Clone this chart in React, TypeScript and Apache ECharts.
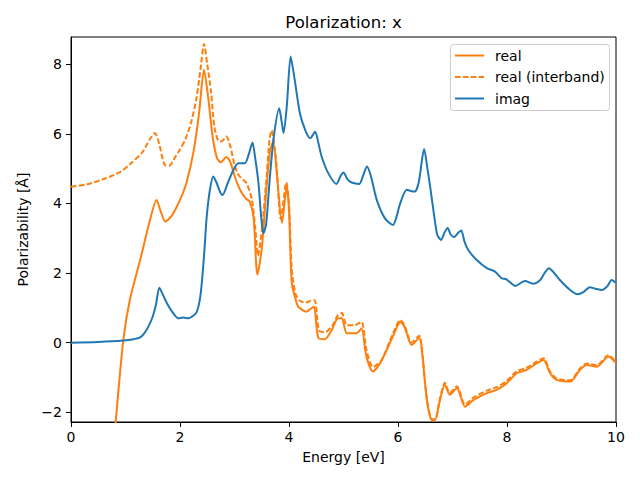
import React, { useEffect, useRef } from "react";
import * as echarts from "echarts";

const realX = [0.70, 0.82, 0.96, 1.08, 1.27, 1.45, 1.57, 1.65, 1.73, 1.85, 2.0, 2.12, 2.25, 2.35, 2.44, 2.52, 2.6, 2.68, 2.75, 2.85, 2.92, 3.01, 3.1, 3.2, 3.28, 3.35, 3.42, 3.5, 3.58, 3.65, 3.71, 3.78, 3.87, 3.96, 4.0, 4.05, 4.12, 4.17, 4.32, 4.45, 4.54, 4.66, 4.78, 4.9, 4.97, 5.06, 5.24, 5.33, 5.42, 5.54, 5.67, 5.85, 6.0, 6.04, 6.12, 6.25, 6.39, 6.43, 6.53, 6.62, 6.68, 6.77, 6.86, 6.95, 7.08, 7.23, 7.38, 7.63, 7.81, 7.99, 8.18, 8.36, 8.55, 8.67, 8.79, 8.91, 9.16, 9.34, 9.46, 9.65, 9.86, 10.0];
const realY = [-4.5, -2.27, 0.08, 1.23, 2.38, 3.53, 4.1, 3.75, 3.48, 3.65, 4.1, 4.6, 5.5, 6.6, 7.84, 7.0, 5.9, 5.3, 5.18, 5.33, 5.2, 4.75, 4.4, 4.15, 4.05, 3.6, 1.95, 2.7, 4.3, 5.5, 5.77, 4.8, 3.44, 4.48, 3.8, 1.71, 1.25, 1.03, 0.89, 1.03, 0.13, 0.1, 0.35, 0.70, 0.70, 0.27, 0.27, 0.41, -0.40, -0.83, -0.59, -0.02, 0.51, 0.60, 0.45, -0.07, 0.13, -0.11, -1.65, -2.22, -2.22, -1.65, -1.2, -1.5, -1.31, -1.84, -1.65, -1.45, -1.36, -1.17, -0.88, -0.78, -0.59, -0.5, -0.88, -1.07, -1.12, -0.78, -0.64, -0.69, -0.40, -0.59];

const interX = [0, 0.3, 0.6, 0.9, 1.1, 1.3, 1.45, 1.54, 1.62, 1.72, 1.8, 1.9, 2.0, 2.1, 2.2, 2.3, 2.38, 2.44, 2.5, 2.57, 2.63, 2.7, 2.76, 2.85, 2.93, 3.0, 3.08, 3.22, 3.32, 3.38, 3.43, 3.5, 3.58, 3.64, 3.68, 3.76, 3.85, 3.95, 4.0, 4.05, 4.12, 4.2, 4.3, 4.4, 4.47, 4.55, 4.66, 4.8, 4.9, 4.97, 5.06, 5.2, 5.33, 5.42, 5.54, 5.7, 5.85, 6.0, 6.04, 6.12, 6.25, 6.39, 6.43, 6.53, 6.62, 6.68, 6.77, 6.86, 6.95, 7.08, 7.23, 7.38, 7.63, 7.81, 7.99, 8.18, 8.36, 8.55, 8.67, 8.79, 8.91, 9.16, 9.34, 9.46, 9.65, 9.86, 10.0];
const interY = [4.48, 4.55, 4.7, 4.9, 5.15, 5.45, 5.85, 6.02, 5.7, 5.1, 5.08, 5.3, 5.55, 5.85, 6.3, 7.0, 7.9, 8.58, 8.0, 7.2, 6.2, 5.8, 5.78, 5.92, 5.6, 5.1, 4.8, 4.58, 4.1, 3.3, 2.5, 3.2, 4.6, 5.8, 6.1, 5.3, 3.55, 4.6, 4.0, 2.1, 1.4, 1.2, 1.15, 1.2, 1.22, 0.35, 0.3, 0.5, 0.8, 0.85, 0.5, 0.5, 0.6, -0.2, -0.7, -0.5, 0.05, 0.58, 0.65, 0.5, 0.0, 0.2, -0.05, -1.6, -2.2, -2.2, -1.6, -1.15, -1.45, -1.25, -1.78, -1.58, -1.38, -1.28, -1.1, -0.82, -0.72, -0.54, -0.45, -0.83, -1.03, -1.08, -0.74, -0.6, -0.65, -0.36, -0.56];

const imagX = [0, 0.5, 0.96, 1.15, 1.27, 1.35, 1.42, 1.5, 1.56, 1.62, 1.68, 1.76, 1.85, 1.97, 2.06, 2.15, 2.25, 2.31, 2.36, 2.4, 2.45, 2.49, 2.55, 2.61, 2.67, 2.73, 2.78, 2.88, 2.98, 3.07, 3.19, 3.26, 3.33, 3.38, 3.44, 3.49, 3.53, 3.58, 3.65, 3.72, 3.82, 3.86, 3.9, 3.96, 4.03, 4.1, 4.2, 4.3, 4.39, 4.48, 4.53, 4.6, 4.72, 4.87, 4.95, 5.0, 5.07, 5.15, 5.29, 5.36, 5.43, 5.5, 5.61, 5.76, 5.91, 5.97, 6.04, 6.16, 6.25, 6.31, 6.38, 6.48, 6.54, 6.59, 6.65, 6.72, 6.79, 6.85, 6.91, 6.97, 7.03, 7.1, 7.16, 7.22, 7.29, 7.44, 7.63, 7.78, 7.9, 7.99, 8.15, 8.33, 8.48, 8.61, 8.69, 8.77, 8.85, 8.97, 9.16, 9.29, 9.4, 9.52, 9.62, 9.74, 9.84, 9.92, 10.0];
const imagY = [0, 0.02, 0.06, 0.1, 0.15, 0.28, 0.46, 0.75, 1.1, 1.58, 1.4, 1.13, 0.9, 0.70, 0.72, 0.70, 0.78, 0.89, 1.2, 1.71, 2.7, 3.62, 4.4, 4.77, 4.6, 4.35, 4.24, 4.6, 4.96, 5.15, 5.15, 5.4, 5.75, 5.3, 4.58, 3.6, 3.14, 3.4, 4.77, 5.9, 6.73, 6.4, 6.02, 6.8, 8.22, 7.6, 6.59, 6.1, 5.87, 6.06, 5.8, 5.34, 4.87, 4.56, 4.8, 4.89, 4.7, 4.6, 4.56, 4.8, 5.06, 4.8, 4.1, 3.57, 3.38, 3.6, 4.0, 4.39, 4.35, 4.34, 4.6, 5.56, 5.0, 4.48, 3.8, 3.1, 2.95, 3.15, 3.29, 3.1, 3.03, 3.15, 3.22, 2.9, 2.66, 2.38, 2.14, 2.04, 1.85, 1.82, 1.63, 1.77, 1.69, 1.8, 2.0, 2.14, 2.03, 1.8, 1.51, 1.39, 1.45, 1.59, 1.55, 1.51, 1.62, 1.8, 1.72];

const xTicks = [0, 2, 4, 6, 8, 10];
const yTicks = [-2, 0, 2, 4, 6, 8];
const seriesNames = ["real", "real (interband)", "imag"];

const ORANGE = "#ff7f0e";
const BLUE = "#1f77b4";
const FONT = "DejaVu Sans";

const zip = (xs: number[], ys: number[]) => xs.map((x, i) => [x, ys[i]]);

export default function App() {
  const ref = useRef<HTMLDivElement>(null);
  useEffect(() => {
    if (!ref.current) return;
    const chart = echarts.init(ref.current, null, { renderer: "svg" });
    const legendItems = [
      { name: seriesNames[0], color: ORANGE, dash: null as number[] | null },
      { name: seriesNames[1], color: ORANGE, dash: [5.5, 2.4] },
      { name: seriesNames[2], color: BLUE, dash: null as number[] | null },
    ];
    const legendChildren: any[] = [
      {
        type: "rect",
        shape: { x: 450.5, y: 44.5, width: 159, height: 66, r: 3 },
        style: { fill: "rgba(255,255,255,0.8)", stroke: "#cccccc", lineWidth: 1 },
      },
    ];
    legendItems.forEach((it, i) => {
      const cy = 55.5 + i * 21.5;
      legendChildren.push({
        type: "line",
        shape: { x1: 455, y1: cy, x2: 484, y2: cy },
        style: { stroke: it.color, lineWidth: 2, lineDash: it.dash || undefined },
      });
      legendChildren.push({
        type: "text",
        x: 495,
        y: cy,
        style: {
          text: it.name,
          font: `14px "${FONT}"`,
          fill: "#000",
          textVerticalAlign: "middle",
          verticalAlign: "middle",
        },
      });
    });
    chart.setOption({
      animation: false,
      backgroundColor: "#fff",
      grid: {
        left: 71,
        right: 24,
        top: 37,
        bottom: 58,
        show: true,
        borderColor: "#000",
        borderWidth: 1,
        backgroundColor: "transparent",
      },
      xAxis: {
        type: "value",
        min: 0,
        max: 10,
        interval: 2,
        name: "Energy [eV]",
        nameLocation: "middle",
        nameGap: 28,
        nameTextStyle: { fontFamily: FONT, fontSize: 14, color: "#000" },
        axisLine: { show: true, onZero: false, lineStyle: { color: "#000", width: 1 } },
        axisTick: { show: true, inside: false, length: 5, lineStyle: { color: "#000" }, customValues: xTicks },
        axisLabel: { fontFamily: FONT, fontSize: 14, color: "#000", margin: 8, customValues: xTicks },
        splitLine: { show: false },
      },
      yAxis: {
        type: "value",
        min: -2.28,
        max: 8.78,
        name: "Polarizability [Å]",
        nameLocation: "middle",
        nameGap: 38,
        nameTextStyle: { fontFamily: FONT, fontSize: 14, color: "#000" },
        axisLine: { show: true, onZero: false, lineStyle: { color: "#000", width: 1 } },
        axisTick: { show: true, inside: false, length: 5, lineStyle: { color: "#000" }, customValues: yTicks },
        axisLabel: {
          fontFamily: FONT,
          fontSize: 14,
          color: "#000",
          margin: 9,
          customValues: yTicks,
          formatter: (v: number) => (v < 0 ? "\u2212" + Math.abs(v) : String(v)),
        },
        splitLine: { show: false },
      },
      series: [
        {
          name: seriesNames[0],
          type: "line",
          data: zip(realX, realY),
          showSymbol: false,
          smooth: 0.25,
          clip: true,
          lineStyle: { color: ORANGE, width: 2 },
          itemStyle: { color: ORANGE },
        },
        {
          name: seriesNames[1],
          type: "line",
          data: zip(interX, interY),
          showSymbol: false,
          smooth: 0.25,
          clip: true,
          lineStyle: { color: ORANGE, width: 2, type: [5.5, 2.4] },
          itemStyle: { color: ORANGE },
        },
        {
          name: seriesNames[2],
          type: "line",
          data: zip(imagX, imagY),
          showSymbol: false,
          smooth: 0.25,
          clip: true,
          lineStyle: { color: BLUE, width: 2 },
          itemStyle: { color: BLUE },
        },
      ],
      graphic: [
        {
          type: "text",
          x: 343.5,
          y: 22,
          style: {
            text: "Polarization: x",
            font: `16.5px "${FONT}"`,
            fill: "#000",
            align: "center",
            verticalAlign: "middle",
          },
        },
        { type: "group", z: 100, children: legendChildren },
      ],
    });
    return () => chart.dispose();
  }, []);
  return <div ref={ref} style={{ width: 640, height: 480, position: "absolute", left: 0, top: 0 }} />;
}
